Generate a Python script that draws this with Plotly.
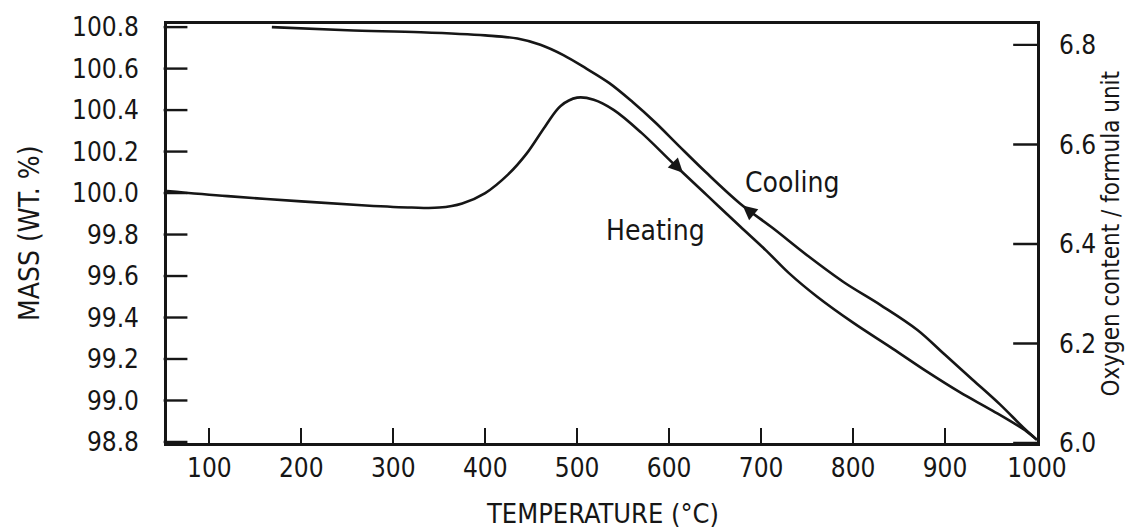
import numpy as np
import plotly.graph_objects as go

# Thermogravimetric curves: mass (wt. %) versus temperature (°C)
heating_temp = [54, 120, 200, 270, 320, 350, 375, 400, 425, 445, 465, 482, 500, 518,
                540, 570, 605, 641, 677, 705, 730, 761, 800, 843, 880, 916, 952, 989, 1000]
heating_mass = [100.01, 99.985, 99.96, 99.94, 99.93, 99.93, 99.95, 100.00, 100.09, 100.19,
                100.32, 100.42, 100.46, 100.45, 100.40, 100.29, 100.14, 99.99, 99.84,
                99.725, 99.615, 99.50, 99.375, 99.25, 99.14, 99.04, 98.95, 98.85, 98.81]

cooling_temp = [168, 250, 330, 400, 435, 460, 485, 510, 535, 560, 585, 610, 640, 677,
                713, 750, 790, 830, 870, 900, 930, 960, 985, 1000]
cooling_mass = [100.80, 100.785, 100.775, 100.76, 100.745, 100.715, 100.665, 100.60,
                100.53, 100.44, 100.34, 100.23, 100.10, 99.95, 99.83, 99.70, 99.57,
                99.46, 99.34, 99.22, 99.10, 98.98, 98.87, 98.81]

x_ticks = [100, 200, 300, 400, 500, 600, 700, 800, 900, 1000]
mass_ticks = [98.8, 99.0, 99.2, 99.4, 99.6, 99.8, 100.0, 100.2, 100.4, 100.6, 100.8]
oxygen_ticks = [6.0, 6.2, 6.4, 6.6, 6.8]

# Direction-arrow positions (temperature) on each branch
heating_arrow_t = 615
cooling_arrow_t = 680

FONT = "DejaVu Sans Condensed, DejaVu Sans, sans-serif"
INK = "#161616"
T_MIN, T_MAX = 54, 1000
# axis range padded a hair so marks sitting on the frame stay inside it
X_RANGE = [T_MIN - 0.02, T_MAX + 0.02]
MASS_RANGE = [98.795, 100.815]
OXY_RANGE = [6.0, 6.842]
PLOT_W = 1126 - 167 - 89
TICK_LEN = 17

# half a tick length expressed in temperature units
half_tick_t = (TICK_LEN / 2) * (X_RANGE[1] - X_RANGE[0]) / PLOT_W

fig = go.Figure()
fig.add_trace(go.Scatter(x=heating_temp, y=heating_mass, mode="lines",
                         line=dict(color=INK, width=2.6, shape="spline", smoothing=1.0),
                         showlegend=False, hoverinfo="skip"))
fig.add_trace(go.Scatter(x=cooling_temp, y=cooling_mass, mode="lines",
                         line=dict(color=INK, width=2.6, shape="spline", smoothing=1.0),
                         showlegend=False, hoverinfo="skip"))

# inward tick marks on the mass scale: short line markers just inside the frame
fig.add_trace(go.Scatter(x=[T_MIN + half_tick_t] * len(mass_ticks), y=mass_ticks,
                         mode="markers",
                         marker=dict(symbol="line-ew", size=TICK_LEN,
                                     line=dict(color=INK, width=2.4)),
                         cliponaxis=False, showlegend=False, hoverinfo="skip"))
# inward tick marks on the oxygen scale: centred on the frame, outer half clipped
fig.add_trace(go.Scatter(x=[T_MAX] * len(oxygen_ticks), y=oxygen_ticks, yaxis="y2",
                         mode="markers",
                         marker=dict(symbol="line-ew", size=2 * TICK_LEN,
                                     line=dict(color=INK, width=2.4)),
                         cliponaxis=True, showlegend=False, hoverinfo="skip"))

h_y = float(np.interp(heating_arrow_t, heating_temp, heating_mass))
c_y = float(np.interp(cooling_arrow_t, cooling_temp, cooling_mass))

annotations = [
    dict(x=heating_arrow_t, y=h_y, xref="x", yref="y", ax=-9, ay=-9, text="",
         showarrow=True, arrowhead=2, arrowsize=1.3, arrowwidth=2.2, arrowcolor=INK),
    dict(x=cooling_arrow_t, y=c_y, xref="x", yref="y", ax=9, ay=7.5, text="",
         showarrow=True, arrowhead=2, arrowsize=1.3, arrowwidth=2.2, arrowcolor=INK),
    dict(x=734, y=100.05, xref="x", yref="y", text="Cooling", showarrow=False,
         font=dict(family=FONT, size=28, color=INK)),
    dict(x=585, y=99.82, xref="x", yref="y", text="Heating", showarrow=False,
         font=dict(family=FONT, size=28, color=INK)),
    dict(x=-0.158, y=0.5, xref="paper", yref="paper", text="MASS (WT. %)",
         xanchor="center", yanchor="middle",
         textangle=-90, showarrow=False, font=dict(family=FONT, size=28, color=INK)),
    dict(x=0.5, y=-0.168, xref="paper", yref="paper", text="TEMPERATURE (°C)",
         xanchor="center", yanchor="middle",
         showarrow=False, font=dict(family=FONT, size=27, color=INK)),
    dict(x=1.084, y=0.5, xref="paper", yref="paper", text="Oxygen content / formula unit",
         xanchor="center", yanchor="middle",
         textangle=-90, showarrow=False, font=dict(family=FONT, size=24, color=INK)),
]

axis_common = dict(showline=True, linecolor=INK, linewidth=2.6, showgrid=False,
                   zeroline=False, tickcolor=INK, tickwidth=2.4,
                   tickfont=dict(family=FONT, size=26, color=INK))

fig.update_layout(
    width=1126, height=529,
    margin=dict(l=167, r=89, t=21, b=86),
    paper_bgcolor="white", plot_bgcolor="white",
    xaxis=dict(range=X_RANGE, tickvals=x_ticks, ticks="inside", ticklen=15,
               mirror=True, ticklabelstandoff=0, **axis_common),
    yaxis=dict(range=MASS_RANGE, tickvals=mass_ticks, ticks="",
               ticktext=[f"{v:.1f}" for v in mass_ticks], ticklabelstandoff=20,
               **axis_common),
    yaxis2=dict(range=OXY_RANGE, tickvals=oxygen_ticks, ticks="",
                ticktext=[f"{v:.1f}" for v in oxygen_ticks], ticklabelstandoff=14,
                overlaying="y", side="right", **axis_common),
    annotations=annotations,
)

fig.write_html("out.html")
